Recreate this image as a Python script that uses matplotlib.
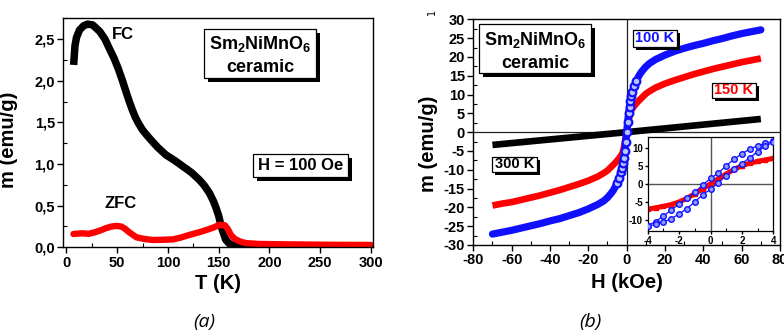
import matplotlib
matplotlib.use('Agg')
import matplotlib.pyplot as plt
from matplotlib.patches import Rectangle
from matplotlib.ticker import MultipleLocator, FuncFormatter
import numpy as np

plt.rcParams['font.family'] = ['Liberation Sans', 'DejaVu Sans']
plt.rcParams['font.weight'] = 'bold'
plt.rcParams['mathtext.fontset'] = 'custom'
plt.rcParams['mathtext.rm'] = 'Liberation Sans:bold'
plt.rcParams['mathtext.bf'] = 'Liberation Sans:bold'
plt.rcParams['mathtext.default'] = 'rm'
plt.rcParams['axes.unicode_minus'] = False

# ---------------- data (a): m(T) ----------------
fc_T = [7.2, 7.8, 8.5, 10, 13, 17, 21, 26, 33, 38, 43, 47, 51, 55, 59, 62, 65, 68, 71, 75, 79,
        84, 90, 98, 107, 115, 123, 131, 136, 141, 145, 147.5, 150, 152.5, 155, 157, 160, 164,
        175, 200, 250, 300]
fc_m = [2.19, 2.30, 2.42, 2.52, 2.61, 2.66, 2.68, 2.67, 2.59, 2.50, 2.37, 2.27, 2.15, 2.01, 1.86,
        1.75, 1.65, 1.56, 1.49, 1.41, 1.35, 1.28, 1.20, 1.11, 1.04, 0.97, 0.90, 0.81, 0.74, 0.65,
        0.55, 0.47, 0.38, 0.25, 0.16, 0.09, 0.05, 0.02, 0.015, 0.015, 0.015, 0.015]
zfc_T = [7, 12, 16, 22, 28, 34, 39, 44, 49, 54, 57, 62, 69, 77, 85, 95, 105, 113, 121, 130, 138,
         145, 151, 156, 159, 162, 166, 171, 177, 190, 220, 260, 300]
zfc_m = [0.16, 0.165, 0.168, 0.162, 0.18, 0.205, 0.23, 0.248, 0.257, 0.25, 0.23, 0.18, 0.12, 0.10,
         0.088, 0.09, 0.095, 0.118, 0.148, 0.178, 0.208, 0.238, 0.27, 0.265, 0.22, 0.15, 0.10,
         0.07, 0.05, 0.04, 0.035, 0.03, 0.028]

# ---------------- data (b): m(H) ----------------
H300 = [-70, -35, 0, 35, 70]
m300 = [-3.4, -1.7, 0, 1.75, 3.5]
H150 = [-70, -65, -60, -55, -50, -45, -40, -35, -30, -25, -20, -15, -12, -10, -8, -7, -6, -5, -4,
        -3, -2.5, -2, -1.5, -1, 0, 1, 1.5, 2, 2.5, 3, 4, 5, 6, 7, 8, 10, 12, 15, 20, 25, 30, 35,
        40, 45, 50, 55, 60, 65, 70]
m150 = [-19.5, -19.0, -18.6, -18.0, -17.4, -16.8, -16.1, -15.4, -14.6, -13.8, -12.9, -11.8,
        -10.9, -10.2, -9.2, -8.7, -8.2, -7.6, -7.0, -6.3, -5.9, -5.3, -4.3, -3.0, 0, 3.0, 4.3,
        5.3, 5.9, 6.3, 7.0, 7.6, 8.2, 8.7, 9.2, 10.2, 10.9, 11.8, 12.9, 13.8, 14.6, 15.4, 16.1,
        16.8, 17.4, 18.0, 18.6, 19.1, 19.6]
H100 = [-70, -65, -60, -55, -50, -45, -40, -35, -30, -25, -20, -15, -12, -10, -8, -7, -6, -5, -4,
        -3, -2.5, -2, -1.5, -1, -0.5, 0, 0.5, 1, 1.5, 2, 2.5, 3, 4, 5, 6, 7, 8, 10, 12, 15, 20,
        25, 30, 35, 40, 45, 50, 55, 60, 65, 70]
m100 = [-27.1, -26.6, -26.1, -25.5, -24.9, -24.3, -23.6, -23.0, -22.2, -21.4, -20.4, -19.2,
        -18.3, -17.4, -16.2, -15.5, -14.6, -13.6, -12.3, -10.6, -9.6, -8.3, -6.8, -5.0, -2.6, 0,
        2.6, 5.0, 6.8, 8.3, 9.6, 10.6, 12.3, 13.6, 14.6, 15.5, 16.2, 17.4, 18.3, 19.3, 20.5,
        21.5, 22.3, 23.0, 23.6, 24.3, 24.9, 25.6, 26.2, 26.7, 27.2]

# inset (low field)
ins_H_down = [4, 3.5, 3, 2.5, 2, 1.5, 1, 0.5, 0, -0.5, -1, -1.5, -2, -2.5, -3, -3.5, -4]
ins_m_down = [11.7, 11.2, 10.5, 9.6, 8.3, 6.8, 5.0, 3.0, 1.5, -0.3, -2.3, -4.0, -5.6, -7.2,
              -8.9, -10.4, -11.5]
ins_H_up = [-4, -3.5, -3, -2.5, -2, -1.5, -1, -0.5, 0, 0.5, 1, 1.5, 2, 2.5, 3, 3.5, 4]
ins_m_up = [-11.7, -11.2, -10.5, -9.6, -8.3, -6.8, -5.0, -3.0, -1.5, 0.3, 2.3, 4.0, 5.6, 7.2,
            8.9, 10.4, 11.5]
ins_H_red = [-4, -3.5, -3, -2.5, -2, -1.5, -1, -0.5, 0, 0.5, 1, 1.5, 2, 2.5, 3, 3.5, 4]
ins_m_red = [-7.0, -6.6, -6.2, -5.7, -5.0, -4.0, -2.7, -1.4, 0, 1.4, 2.7, 4.0, 5.0, 5.7, 6.2,
             6.6, 7.0]

W, H = 784, 335
fig = plt.figure(figsize=(W / 100, H / 100), dpi=100)


def fr(x0, y0, x1, y1):
    return [x0 / W, 1 - y1 / H, (x1 - x0) / W, (y1 - y0) / H]


def box(x0, y0, x1, y1, sh=4):
    fig.add_artist(Rectangle(((x0 + sh) / W, 1 - (y1 + sh) / H), (x1 - x0) / W, (y1 - y0) / H,
                             transform=fig.transFigure, facecolor='black', edgecolor='none',
                             zorder=10))
    fig.add_artist(Rectangle((x0 / W, 1 - y1 / H), (x1 - x0) / W, (y1 - y0) / H,
                             transform=fig.transFigure, facecolor='white', edgecolor='black',
                             lw=0.9, zorder=11))


def ftext(x, y, s, **kw):
    fig.text(x / W, 1 - y / H, s, ha='center', va='center', zorder=12, fontweight='bold', **kw)


def style(ax, lsize=10.5):
    for s in ax.spines.values():
        s.set_linewidth(1.0)
    ax.tick_params(which='major', direction='out', length=4, width=1, labelsize=lsize, pad=2)
    ax.tick_params(which='minor', direction='in', length=3, width=0.8)
    for lab in ax.get_xticklabels() + ax.get_yticklabels():
        lab.set_fontweight('bold')


# ---------------- panel (a) ----------------
axa = fig.add_axes(fr(63.3, 18.3, 373, 247.3))
axa.plot(fc_T, fc_m, color='black', lw=5.4, solid_capstyle='butt', solid_joinstyle='round')
axa.plot(zfc_T, zfc_m, color='#ff0000', lw=4.6, solid_capstyle='round', solid_joinstyle='round')
axa.set_xlim(-3, 302)
axa.set_ylim(0, 2.75)
axa.xaxis.set_major_locator(MultipleLocator(50))
axa.xaxis.set_minor_locator(MultipleLocator(25))
axa.yaxis.set_major_locator(MultipleLocator(0.5))
axa.yaxis.set_minor_locator(MultipleLocator(0.25))
axa.yaxis.set_major_formatter(FuncFormatter(lambda v, p: f"{v:.1f}".replace('.', ',')))
style(axa)
axa.set_xlabel('T (K)', fontsize=14.5, fontweight='bold', labelpad=0)
axa.set_ylabel('m (emu/g)', fontsize=14.5, fontweight='bold')
axa.yaxis.set_label_coords(-0.145, 0.47)
axa.xaxis.set_label_coords(0.5, -0.115)
axa.text(56, 2.55, 'FC', fontsize=12, fontweight='bold', ha='center', va='center')
axa.text(53, 0.52, 'ZFC', fontsize=12, fontweight='bold', ha='center', va='center')

box(204, 29, 316, 78)
ftext(260, 44, r'Sm$_{2}$NiMnO$_{6}$', fontsize=13)
ftext(260, 68, 'ceramic', fontsize=13)
box(253, 154, 348, 177)
ftext(300.5, 165.5, 'H = 100 Oe', fontsize=12)

# ---------------- panel (b) ----------------
axb = fig.add_axes(fr(473.3, 19.3, 780, 245))
axb.axhline(0, color='#222222', lw=0.9, zorder=1)
axb.axvline(0, color='#222222', lw=0.9, zorder=1)
axb.plot(H300, m300, color='black', lw=4.8, solid_capstyle='butt', zorder=2)
axb.plot(H150, m150, color='#ff0000', lw=4.8, solid_capstyle='butt',
         solid_joinstyle='round', zorder=3)
axb.plot(H100, m100, color='#1010ff', lw=5.2, solid_capstyle='round', solid_joinstyle='round',
         zorder=4)
H100a = np.array(H100)
m100a = np.array(m100)
low = np.abs(H100a) <= 5
axb.plot(H100a[low], m100a[low], ls='none', marker='o', ms=5.5, mec='#1010ff', mew=1.6,
         mfc='#b8c4ff', zorder=5)
axb.set_xlim(-80, 80)
axb.set_ylim(-30, 30)
axb.xaxis.set_major_locator(MultipleLocator(20))
axb.xaxis.set_minor_locator(MultipleLocator(10))
axb.yaxis.set_major_locator(MultipleLocator(5))
axb.yaxis.set_minor_locator(MultipleLocator(2.5))
style(axb)
axb.set_xlabel('H (kOe)', fontsize=14.5, fontweight='bold', labelpad=0)
axb.set_ylabel('m (emu/g)', fontsize=14.5, fontweight='bold')
axb.yaxis.set_label_coords(-0.115, 0.45)
axb.xaxis.set_label_coords(0.5, -0.125)

box(479, 24, 591, 73)
ftext(535, 40, r'Sm$_{2}$NiMnO$_{6}$', fontsize=13)
ftext(535, 63, 'ceramic', fontsize=13)
box(633, 30, 677, 47, sh=3)
ftext(655, 38.5, '100 K', fontsize=10.5, color='#1010ff')
box(712, 83, 756, 98, sh=3)
ftext(734, 90.5, '150 K', fontsize=10.5, color='#ff0000')
box(492, 157, 537, 172, sh=3)
ftext(514.5, 164.5, '300 K', fontsize=10.5, color='black')

fig.text(432 / W, 1 - 12 / H, '1', rotation=90, fontsize=7, fontweight='normal',
         ha='center', va='center', family='DejaVu Sans')

# inset
axi = fig.add_axes(fr(647.7, 136.7, 773.3, 231), zorder=20)
axi.set_facecolor('white')
axi.axhline(0, color='#555555', lw=1.0, zorder=1)
axi.axvline(0, color='#555555', lw=1.0, zorder=1)
axi.plot(ins_H_red, ins_m_red, color='#ff0000', lw=3.6, marker='s', ms=2.5, zorder=2)
axi.plot(ins_H_down, ins_m_down, color='#1010ff', lw=0.9, marker='o', ms=4, mec='#1010ff',
         mfc='#8899ff', mew=1.0, zorder=3)
axi.plot(ins_H_up, ins_m_up, color='#1010ff', lw=0.9, marker='o', ms=4, mec='#1010ff',
         mfc='#8899ff', mew=1.0, zorder=3)
axi.set_xlim(-4, 4)
axi.set_ylim(-13, 13)
axi.xaxis.set_major_locator(MultipleLocator(2))
axi.xaxis.set_minor_locator(MultipleLocator(1))
axi.yaxis.set_major_locator(MultipleLocator(5))
style(axi, lsize=7)
axi.tick_params(which='major', length=2.5, pad=1)
axi.tick_params(which='minor', length=2)
for s in axi.spines.values():
    s.set_linewidth(0.9)

# captions
fig.text(204 / W, 1 - 322 / H, '(a)', fontsize=14, style='italic', fontweight='normal',
         family=['Open Sans', 'DejaVu Sans'], ha='center', va='center')
fig.text(590 / W, 1 - 322 / H, '(b)', fontsize=14, style='italic', fontweight='normal',
         family=['Open Sans', 'DejaVu Sans'], ha='center', va='center')

fig.savefig('out.png', dpi=100)
